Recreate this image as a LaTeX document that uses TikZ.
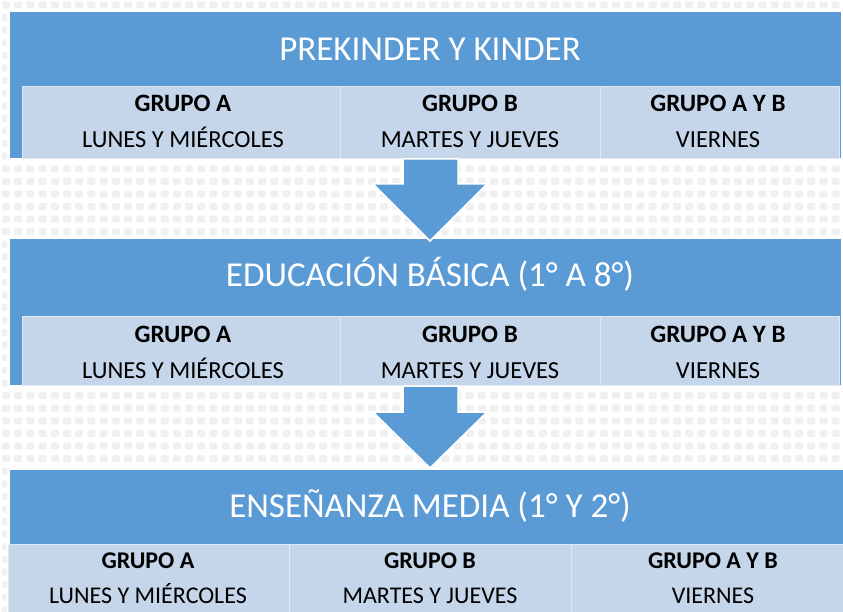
\documentclass[tikz,border=0pt]{standalone}
\usepackage{fontspec}
\setmainfont{Carlito}
\definecolor{blueA}{HTML}{5B9BD5}
\definecolor{lightB}{HTML}{C5D6EB}
\definecolor{patc}{HTML}{F0F0F0}
\tikzset{
  bluebox/.style={draw=white, line width=2.5pt, fill=blueA, inner sep=0pt, anchor=north west},
  cellbox/.style={draw=white!45!lightB, line width=0.8pt, fill=lightB, inner sep=0pt, anchor=north west},
  titletext/.style={text=white, anchor=base, inner sep=0pt, font=\fontsize{35}{42}\selectfont},
  headtext/.style={text=black, anchor=base, inner sep=0pt, font=\fontsize{25}{30}\selectfont\bfseries},
  daytext/.style={text=black, anchor=base, inner sep=0pt, font=\fontsize{24.5}{30}\selectfont},
  headsmall/.style={headtext, font=\fontsize{24}{28}\selectfont\bfseries},
  daysmall/.style={daytext, font=\fontsize{24}{28}\selectfont},
  blockarrow/.style={fill=blueA, draw=white, line width=1.5pt, line join=miter}
}
\begin{document}
\begin{tikzpicture}[x=1pt,y=-1pt]
\useasboundingbox (0,0) rectangle (843,612);
\fill[white] (0,0) rectangle (843,612);
% background pattern
\foreach \i in {0,...,69}{
  \foreach \j in {0,...,48}{
    \fill[patc, rounded corners=1.5pt] ({2+\i*12.2},{1.5+\j*12.6}) rectangle ++(8,7);
  }
}
% ---------- Box 1 ----------
\node[bluebox, minimum width=834pt, minimum height=148pt] (b1) at (7,10) {};
\node[titletext] (t1) at (430,61) {PREKINDER Y KINDER};
\node[cellbox, minimum width=318pt, minimum height=72pt] (c11) at (22,86) {};
\node[cellbox, minimum width=260pt, minimum height=72pt] (c12) at (340,86) {};
\node[cellbox, minimum width=239pt, minimum height=72pt] (c13) at (600,86) {};
\node[headtext] (h11) at (183,112) {GRUPO A};
\node[headtext] (h12) at (470,112) {GRUPO B};
\node[headtext] (h13) at (718,112) {GRUPO A Y B};
\node[daytext] (d11) at (183,148) {LUNES Y MIÉRCOLES};
\node[daytext] (d12) at (470,148) {MARTES Y JUEVES};
\node[daytext] (d13) at (718,148) {VIERNES};
% ---------- Box 2 ----------
\node[bluebox, minimum width=834pt, minimum height=148pt] (b2) at (7,237) {};
\node[titletext] (t2) at (430,287) {EDUCACIÓN BÁSICA (1° A 8°)};
\node[cellbox, minimum width=318pt, minimum height=69pt] (c21) at (22,316) {};
\node[cellbox, minimum width=260pt, minimum height=69pt] (c22) at (340,316) {};
\node[cellbox, minimum width=239pt, minimum height=69pt] (c23) at (600,316) {};
\node[headtext] (h21) at (183,342) {GRUPO A};
\node[headtext] (h22) at (470,342) {GRUPO B};
\node[headtext] (h23) at (718,342) {GRUPO A Y B};
\node[daytext] (d21) at (183,378) {LUNES Y MIÉRCOLES};
\node[daytext] (d22) at (470,378) {MARTES Y JUEVES};
\node[daytext] (d23) at (718,378) {VIERNES};
% ---------- Arrow 1 ----------
\coordinate (a1s) at (430.5,159);
\coordinate (a1t) at (430,241);
\draw[blockarrow] ([xshift=-27.5pt]a1s) -- ([xshift=27.5pt]a1s) -- ([xshift=27.5pt,yshift=-25pt]a1s)
  -- ([xshift=56.5pt,yshift=-25pt]a1s) -- (a1t) -- ([xshift=-57.5pt,yshift=-25pt]a1s)
  -- ([xshift=-27.5pt,yshift=-25pt]a1s) -- cycle;
% ---------- Box 3 ----------
\node[bluebox, minimum width=846pt, minimum height=160pt] (b3) at (7,467) {};
\node[titletext] (t3) at (430,517) {ENSEÑANZA MEDIA (1° Y 2°)};
\node[cellbox, minimum width=281pt, minimum height=80pt] (c31) at (8,544) {};
\node[cellbox, minimum width=282pt, minimum height=80pt] (c32) at (289,544) {};
\node[cellbox, minimum width=284pt, minimum height=80pt] (c33) at (571,544) {};
\node[headsmall] (h31) at (148,568) {GRUPO A};
\node[headsmall] (h32) at (430,568) {GRUPO B};
\node[headsmall] (h33) at (713,568) {GRUPO A Y B};
\node[daysmall] (d31) at (148,603) {LUNES Y MIÉRCOLES};
\node[daysmall] (d32) at (430,603) {MARTES Y JUEVES};
\node[daysmall] (d33) at (713,603) {VIERNES};
% ---------- Arrow 2 ----------
\coordinate (a2s) at (430.5,386);
\coordinate (a2t) at (430,468);
\draw[blockarrow] ([xshift=-27.5pt]a2s) -- ([xshift=27.5pt]a2s) -- ([xshift=27.5pt,yshift=-26pt]a2s)
  -- ([xshift=56.5pt,yshift=-26pt]a2s) -- (a2t) -- ([xshift=-57.5pt,yshift=-26pt]a2s)
  -- ([xshift=-27.5pt,yshift=-26pt]a2s) -- cycle;
\end{tikzpicture}
\end{document}
